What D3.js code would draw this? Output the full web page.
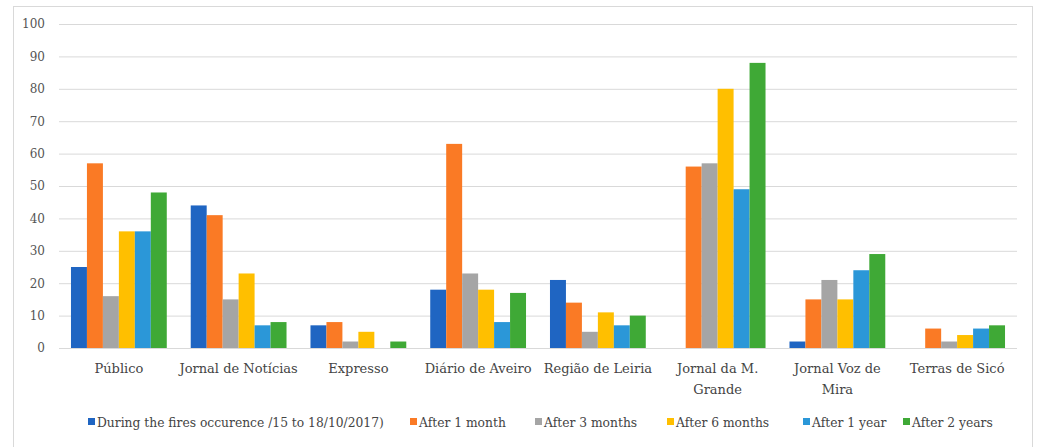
<!DOCTYPE html>
<html>
<head>
<meta charset="utf-8">
<script src="https://cdn.jsdelivr.net/npm/d3@7"></script>
<style>
  body { margin: 0; background: #fff; }
  svg text { font-family: "DejaVu Serif", "Liberation Serif", serif; fill: #444; }
</style>
</head>
<body>
<div id="chart"></div>
<script>
// Datos
const categories = [
  ["Público"], ["Jornal de Notícias"], ["Expresso"], ["Diário de Aveiro"],
  ["Região de Leiria"], ["Jornal da M.", "Grande"], ["Jornal Voz de", "Mira"], ["Terras de Sicó"]
];
const seriesNames = [
  "During the fires occurence /15 to 18/10/2017)", "After 1 month", "After 3 months",
  "After 6 months", "After 1 year", "After 2 years"
];
const during = [25, 44, 7, 18, 21, 0, 2, 0];
const after1m = [57, 41, 8, 63, 14, 56, 15, 6];
const after3m = [16, 15, 2, 23, 5, 57, 21, 2];
const after6m = [36, 23, 5, 18, 11, 80, 15, 4];
const after1y = [36, 7, 0, 8, 7, 49, 24, 6];
const after2y = [48, 8, 2, 17, 10, 88, 29, 7];
const yTicks = [0, 10, 20, 30, 40, 50, 60, 70, 80, 90, 100];

const COLORS = ["#1f65c2", "#fa7a25", "#a5a5a5", "#ffbf00", "#2b97d8", "#3fa936"];
const allSeries = [during, after1m, after3m, after6m, after1y, after2y];

const width = 1037;
const height = 447;
const margin = { top: 24, bottom: 99, left: 59, right: 20 };

const svg = d3.select("#chart").append("svg")
  .attr("width", width).attr("height", height);

// marco
svg.append("rect")
  .attr("x", 13.5).attr("y", 6.5)
  .attr("width", 1019).attr("height", 460)
  .attr("fill", "none").attr("stroke", "#d9d9d9");

const escalaY = d3.scaleLinear().domain([0, 100]).range([height - margin.bottom, margin.top]);
const escalaX = d3.scaleBand()
  .domain(d3.range(categories.length))
  .range([margin.left, width - margin.right])
  .paddingInner(0.2).paddingOuter(0.1);
const escalaSerie = d3.scaleBand().domain(d3.range(6)).range([0, escalaX.bandwidth()]);

// grid
svg.append("g").selectAll("line").data(yTicks).join("line")
  .attr("x1", margin.left).attr("x2", width - margin.right)
  .attr("y1", d => escalaY(d) + 0.5).attr("y2", d => escalaY(d) + 0.5)
  .attr("stroke", "#d9d9d9").attr("stroke-width", 1);

// eje Y
const ejeY = svg.append("g")
  .attr("transform", `translate(${margin.left},0)`)
  .call(d3.axisLeft(escalaY).tickValues(yTicks).tickSize(0).tickPadding(14));
ejeY.select(".domain").remove();
ejeY.selectAll("text").attr("font-size", 12).style("fill", "#555");

// barras
const grupos = svg.append("g").selectAll("g").data(allSeries).join("g")
  .attr("fill", (d, i) => COLORS[i]);
grupos.each(function (vals, si) {
  d3.select(this).selectAll("rect").data(vals).join("rect")
    .attr("x", (d, ci) => escalaX(ci) + escalaSerie(si))
    .attr("width", escalaSerie.bandwidth())
    .attr("y", d => escalaY(d))
    .attr("height", d => escalaY(0) - escalaY(d));
});

// eje X
const labels = svg.append("g").selectAll("text").data(categories).join("text")
  .attr("x", (d, i) => escalaX(i) + escalaX.bandwidth() / 2)
  .attr("y", 373)
  .attr("text-anchor", "middle")
  .attr("font-size", 13);
labels.selectAll("tspan").data(d => d).join("tspan")
  .attr("x", function () { return d3.select(this.parentNode).attr("x"); })
  .attr("dy", (d, i) => i === 0 ? 0 : 21)
  .text(d => d);

// leyenda
const legendX = [88, 410, 535, 667, 803, 903];
const leyenda = svg.append("g").selectAll("g").data(seriesNames).join("g")
  .attr("transform", (d, i) => `translate(${legendX[i]},427)`);
leyenda.append("rect").attr("x", 0).attr("y", -9).attr("width", 7).attr("height", 7)
  .attr("fill", (d, i) => COLORS[i]);
leyenda.append("text").attr("x", 9).attr("y", 0)
  .attr("font-size", 12.3).text(d => d);
</script>
</body>
</html>
